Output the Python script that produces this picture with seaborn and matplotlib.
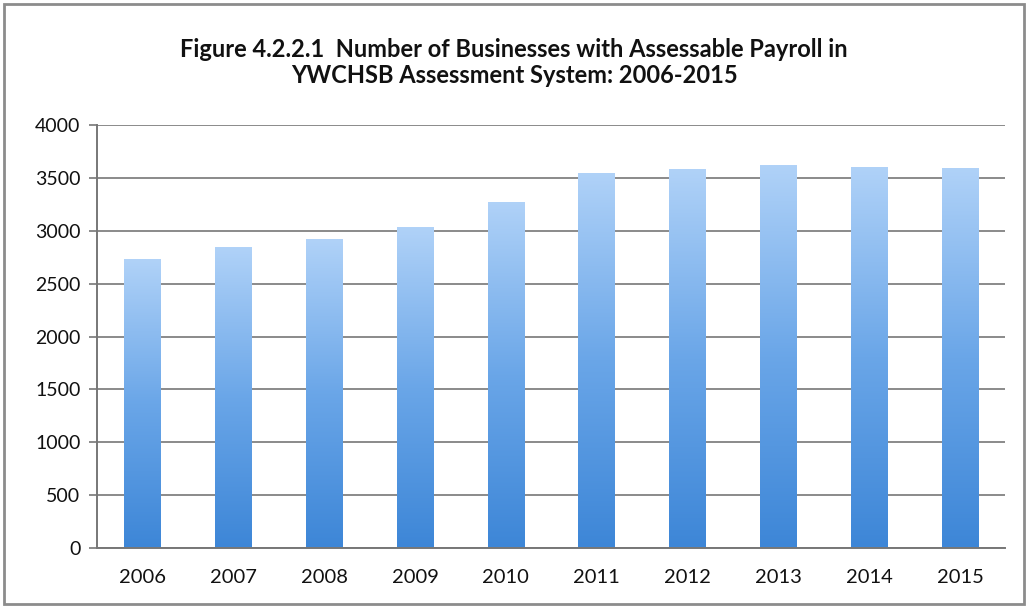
import numpy as np
import pandas as pd
import matplotlib
matplotlib.use("Agg")
import matplotlib.pyplot as plt
import seaborn as sns
from matplotlib.colors import LinearSegmentedColormap
from matplotlib.patches import Rectangle

years = ["2006", "2007", "2008", "2009", "2010", "2011", "2012", "2013", "2014", "2015"]
businesses = [2730, 2843, 2919, 3033, 3275, 3549, 3584, 3619, 3606, 3596]
y_ticks = [0, 500, 1000, 1500, 2000, 2500, 3000, 3500, 4000]
title = "Figure 4.2.2.1  Number of Businesses with Assessable Payroll in\nYWCHSB Assessment System: 2006-2015"

sns.set_theme(style="white")
plt.rcParams['font.family'] = ['Lato', 'DejaVu Sans']

df = pd.DataFrame({"year": years, "count": businesses})

fig = plt.figure(figsize=(10.28, 6.06), dpi=100)
ax = fig.add_axes([0.0944, 0.0957, 0.8836, 0.698])

sns.barplot(data=df, x="year", y="count", ax=ax, width=0.4, color="#6aa6e8",
            edgecolor="none", zorder=3)

ax.set_ylim(0, 4000)
ax.set_xlim(-0.5, len(years) - 0.5)
ax.set_yticks(y_ticks)
ax.set_yticklabels([str(v) for v in y_ticks], fontsize=14, color="#111111")
ax.grid(axis="y", color="#8a8a8a", linewidth=1.4, zorder=0)
ax.set_xlabel("")
ax.set_ylabel("")
ax.tick_params(axis="x", length=0, labelsize=14.5, pad=15, labelcolor="#111111")
ax.set_xticks(np.arange(-0.5, len(years), 1.0), minor=True)
ax.tick_params(axis="x", which="minor", length=6, width=1.2, color="#777777", direction="out")
ax.tick_params(axis="y", length=6, width=1.2, color="#777777", direction="out", left=True, pad=6)

for s in ["top", "right"]:
    ax.spines[s].set_visible(False)
for s in ["left", "bottom"]:
    ax.spines[s].set_color("#777777")
    ax.spines[s].set_linewidth(1.4)
    ax.spines[s].set_zorder(4)

# gradient fill for bars
cmap = LinearSegmentedColormap.from_list("bg", ["#3d86d7", "#6aa6e8", "#b0d2f8"])
grad = np.linspace(0, 1, 256).reshape(-1, 1)
for p in list(ax.patches):
    x0, y0 = p.get_x(), p.get_y()
    w, h = p.get_width(), p.get_height()
    im = ax.imshow(grad, extent=[x0, x0 + w, y0, y0 + h], origin="lower",
                   cmap=cmap, aspect="auto", zorder=3.5)
    im.set_clip_path(p)
ax.set_xlim(-0.5, len(years) - 0.5)
ax.set_ylim(0, 4000)

fig.text(0.5, 0.897, title, ha="center", va="center", fontsize=17,
         fontweight="bold", color="#111111", linespacing=1.2)

fig.add_artist(Rectangle((0.004, 0.004), 0.992, 0.99, transform=fig.transFigure,
                         fill=False, edgecolor="#8c8c8c", linewidth=2))

fig.savefig("out.png", dpi=100)
